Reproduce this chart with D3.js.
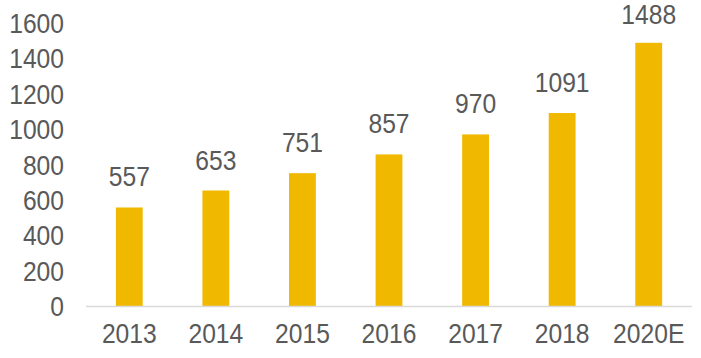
<!DOCTYPE html>
<html><head><meta charset="utf-8">
<script src="https://cdn.jsdelivr.net/npm/d3@7"></script>
<style>body{margin:0;background:#fff}svg{display:block}text{font-family:"Liberation Sans",Arial,sans-serif;fill:#595959}</style>
</head><body><svg id="c" width="701" height="358"></svg>
<script>
const categories = ["2013","2014","2015","2016","2017","2018","2020E"];
const values = [557,653,751,857,970,1091,1488];
const yTicks = [0,200,400,600,800,1000,1200,1400,1600];

const svg = d3.select("#c");
const x = d3.scaleBand().domain(categories).range([86,692]).paddingInner(0.69).paddingOuter(0.345);
const y = d3.scaleLinear().domain([0,1600]).range([306,23]);
const sx = 0.88;

svg.selectAll("rect.bar").data(values).join("rect")
  .attr("class","bar")
  .attr("x",(d,i)=>x(categories[i]))
  .attr("width",x.bandwidth())
  .attr("y",d=>y(d))
  .attr("height",d=>y(0)-y(d))
  .attr("fill","#F0B900");

svg.append("line").attr("x1",86).attr("x2",692).attr("y1",y(0)+0.5).attr("y2",y(0)+0.5)
  .attr("stroke","#d9d9d9").attr("stroke-width",1.5);

svg.selectAll("text.val").data(values).join("text")
  .attr("class","val")
  .attr("transform",(d,i)=>`translate(${x(categories[i])+x.bandwidth()/2},${Math.max(y(d)-21,24)}) scale(${sx},1)`)
  .attr("text-anchor","middle")
  .attr("font-size",28)
  .text(d=>d);

svg.selectAll("text.xl").data(categories).join("text")
  .attr("class","xl")
  .attr("transform",d=>`translate(${x(d)+x.bandwidth()/2},343) scale(${sx},1)`)
  .attr("text-anchor","middle")
  .attr("font-size",28)
  .text(d=>d);

svg.selectAll("text.yl").data(yTicks).join("text")
  .attr("class","yl")
  .attr("transform",d=>`translate(64,${y(d)+10}) scale(${sx},1)`)
  .attr("text-anchor","end")
  .attr("font-size",28)
  .text(d=>d);
</script></body></html>
